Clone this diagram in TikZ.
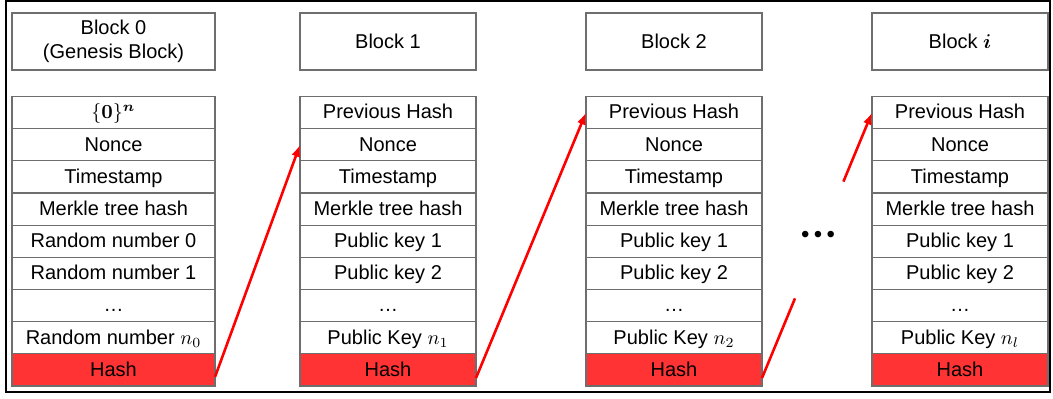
\documentclass[tikz,border=0pt]{standalone}
\usepackage{fontspec}
\setmainfont{Liberation Sans}
\usepackage{amsmath}
\usepackage{bm}
\usetikzlibrary{positioning,chains,calc,arrows.meta}
\definecolor{hashred}{RGB}{255,51,51}
\definecolor{linkred}{RGB}{255,0,0}
\definecolor{cellgray}{RGB}{110,110,110}
\tikzset{
	block chain/.style={
		x=0.5pt, y=-0.5pt, % pixel grid of the sketch
		node distance=0pt,
		font=\fontsize{10}{12}\selectfont
	},
	field/.style={
		rectangle,
		draw=cellgray,
		line width=0.6pt,
		on chain,
		outer sep=0pt,
		inner sep=0pt,
		minimum height=16.08pt,
		text height=1.6ex,text depth=.4ex % adjust baselines
	},
	hash field/.style={
		field,
		fill=hashred
	},
	title box/.style={
		rectangle,
		draw=cellgray,
		line width=0.6pt,
		align=center,
		outer sep=0pt,
		minimum height=28.5pt
	},
	link/.style={
		draw=linkred,
		line width=1.3pt,
		-{Latex[length=6pt,width=4.5pt]}
	},
	wide block/.style={minimum width=101.5pt},
	narrow block/.style={minimum width=88pt}
}

\begin{document}
\begin{tikzpicture}[block chain]
	\useasboundingbox (0,0) rectangle (1053,398);
	\draw[line width=1pt] (6,1) rectangle (1050,392);
	% titles
	\node[title box, wide block] (t0) at (113.5,41.5) {Block 0\\(Genesis Block)};
	\node[title box, narrow block] (t1) at (388,41.5) {Block 1};
	\node[title box, narrow block] (t2) at (674,41.5) {Block 2};
	\node[title box, narrow block] (ti) at (960,41.5) {Block $\bm{i}$};
	% genesis block
	\begin{scope}[start chain=b0 going below, wide block]
		\node[field] at (113.5,112.6) {$\{\bm{0}\}^{\bm{n}}$};
		\node[field] {Nonce};
		\node[field] {Timestamp};
		\node[field] {Merkle tree hash};
		\node[field] {Random number 0};
		\node[field] {Random number 1};
		\node[field] {\dots};
		\node[field] {Random number $n_0$};
		\node[hash field] {Hash};
	\end{scope}
	% block 1
	\begin{scope}[start chain=b1 going below, narrow block]
		\node[field] at (388,112.6) {Previous Hash};
		\node[field] {Nonce};
		\node[field] {Timestamp};
		\node[field] {Merkle tree hash};
		\node[field] {Public key 1};
		\node[field] {Public key 2};
		\node[field] {\dots};
		\node[field] {Public Key $n_1$};
		\node[hash field] {Hash};
	\end{scope}
	% block 2
	\begin{scope}[start chain=b2 going below, narrow block]
		\node[field] at (674,112.6) {Previous Hash};
		\node[field] {Nonce};
		\node[field] {Timestamp};
		\node[field] {Merkle tree hash};
		\node[field] {Public key 1};
		\node[field] {Public key 2};
		\node[field] {\dots};
		\node[field] {Public Key $n_2$};
		\node[hash field] {Hash};
	\end{scope}
	% block i
	\begin{scope}[start chain=bi going below, narrow block]
		\node[field] at (960,112.6) {Previous Hash};
		\node[field] {Nonce};
		\node[field] {Timestamp};
		\node[field] {Merkle tree hash};
		\node[field] {Public key 1};
		\node[field] {Public key 2};
		\node[field] {\dots};
		\node[field] {Public Key $n_l$};
		\node[hash field] {Hash};
	\end{scope}
	\node[font=\fontsize{12}{14}\selectfont] (dots) at (818,237)
		{\textbullet\hspace{2.2pt}\textbullet\hspace{2.2pt}\textbullet};
	% links
	\draw[link] ([yshift=4.5pt]b0-9.south east) -- (b1-2.west);
	\draw[link] ([yshift=4pt]b1-9.south east) -- (b2-1.west);
	\coordinate (gapfrom) at ([yshift=4pt]b2-9.south east);
	\coordinate (gapa) at ($(gapfrom)!0.3!(bi-1.west)$);
	\coordinate (gapb) at ($(gapfrom)!0.74!(bi-1.west)$);
	\draw[link, -] (gapfrom) -- (gapa);
	\draw[link] (gapb) -- (bi-1.west);
\end{tikzpicture}
\end{document}
